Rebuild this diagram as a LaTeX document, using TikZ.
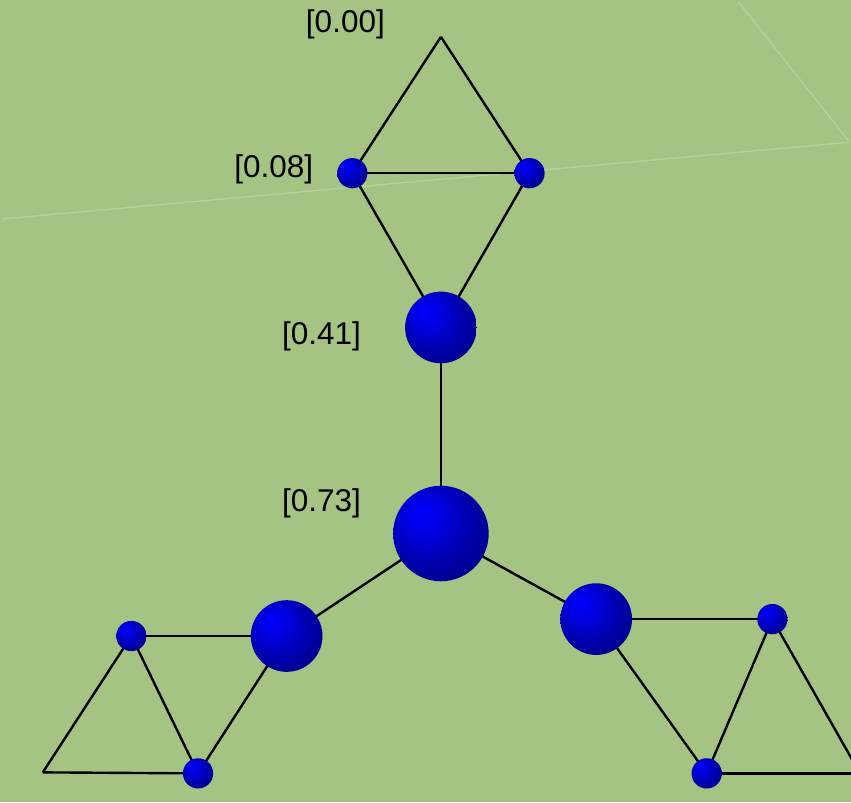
\documentclass[tikz,border=0pt]{standalone}
\usepackage{fontspec}
\setmainfont{Liberation Sans}
\usepackage{tikz}
\usetikzlibrary{positioning,calc}
\definecolor{meadow}{HTML}{A5C383}
\definecolor{meadowline}{HTML}{B6D19B}
\pgfdeclareradialshading{bluesphere}{\pgfpoint{-12bp}{12bp}}{color(0bp)=(blue); color(10bp)=(blue!88!black); color(22bp)=(blue!68!black); color(36bp)=(blue!52!black); color(50bp)=(blue!45!black)}
\pgfdeclarelayer{canvas}
\pgfdeclarelayer{edges}
\pgfsetlayers{canvas,edges,main}

\begin{document}
\begin{tikzpicture}[
    x=0.25mm, y=-0.25mm,
    ball/.style={circle, shading=bluesphere, inner sep=0pt},
    small/.style={ball, minimum size=7.6mm},
    mid/.style={ball, minimum size=18mm},
    big/.style={ball, minimum size=24mm},
    score/.style={font=\fontsize{22.5}{26}\selectfont, inner sep=0pt},
    link/.style={line width=0.6mm, draw=black}
]
\begin{pgfonlayer}{canvas}
\fill[meadow] (-2,-2) rectangle (853,804);
\draw[meadowline, line width=0.35mm] (740,0) -- (851,140);
\draw[meadowline, line width=0.35mm] (0,218) -- (851,141);
\end{pgfonlayer}
\useasboundingbox (0,0) rectangle (851,802);
\clip (0,0) rectangle (851,802);

\coordinate (top) at (441,35);
\node[small] (tl) at (352,172) {};
\node[small] (tr) at (530,172) {};
\node[mid] (hub) at (441,327) {};
\node[big] (core) at (441,534) {};
\node[mid] (lmid) at (286,637) {};
\node[small] (ltop) at (130,637) {};
\node[small] (lbot) at (197,775) {};
\coordinate (lend) at (41,774);
\node[mid] (rmid) at (597,620) {};
\node[small] (rtop) at (774,620) {};
\node[small] (rbot) at (708,775) {};
\coordinate (rend) at (862,775);

\node[score] (s0) at (345,22) {[0.00]};
\node[score] (s1) at (273,168) {[0.08]};
\node[score] (s2) at (321,336) {[0.41]};
\node[score] (s3) at (321,504) {[0.73]};

\begin{pgfonlayer}{edges}
\draw[link] (top) -- (tl.center);
\draw[link] (top) -- (tr.center);
\draw[link] (tl.center) -- (tr.center);
\draw[link] (tl.center) -- (hub.center);
\draw[link] (tr.center) -- (hub.center);
\draw[link] (hub.center) -- (core.center);
\draw[link] (core.center) -- (lmid.center);
\draw[link] (core.center) -- (rmid.center);
\draw[link] (lmid.center) -- (ltop.center);
\draw[link] (lmid.center) -- (lbot.center);
\draw[link] (ltop.center) -- (lbot.center);
\draw[link] (ltop.center) -- (lend);
\draw[link] (lend) -- (lbot.center);
\draw[link] (rmid.center) -- (rtop.center);
\draw[link] (rmid.center) -- (rbot.center);
\draw[link] (rtop.center) -- (rbot.center);
\draw[link] (rtop.center) -- (rend);
\draw[link] (rbot.center) -- (rend);
\end{pgfonlayer}
\end{tikzpicture}
\end{document}
